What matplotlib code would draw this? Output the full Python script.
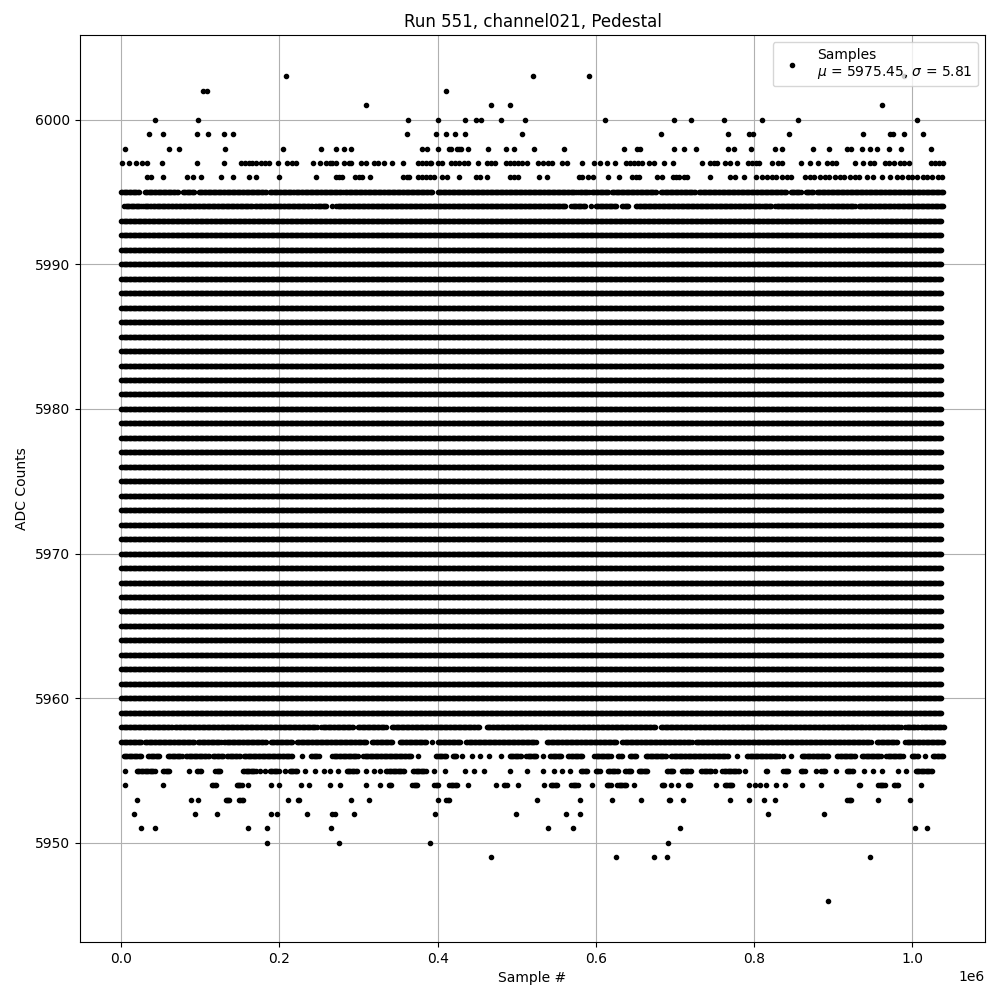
import matplotlib
matplotlib.use('Agg')
import matplotlib.pyplot as plt
import numpy as np

# ADC level -> covered sample ranges, in thousands of samples.
# A range (a, a) is a single isolated sample.
full_levels = list(range(5959, 5994))   # levels filled over the whole run
run_end = 1038

lvl_6003 = [208, 521, 591, 990]
lvl_6002 = [103, 108, 411]
lvl_6001 = [309, 467, 492, 961]
lvl_6000 = [43, 97, 363, 401, 434, 449, 455, 480, 511, 612, 699, 720, 762, 810, 855, 1006]
lvl_5999 = [35, 53, 96, 110, 130, 141, 361, 398, 411, 422, 434, 507, 682, 767, 793, 799,
            844, 938, 972, 976, 990, 1014]
lvl_5998 = [5, 61, 73, 131, 204, 252, 272, 282, 291, 380, 386, 400, 414, 417, 424, 427, 430,
            438, 464, 486, 496, 522, 560, 636, 652, 656, 699, 711, 726, 767, 774, 796, 827,
            835, 875, 895, 918, 923, 936, 947, 955, 971, 986, 1024]
lvl_5997 = [1, 10, 19, 26, 33, 52, 96, 130, 151, 156, 161, 166, 171, 177, 182, 187, 198, 209,
            216, 221, 243, 251, 259, 264, 267, 272, 282, 288, 291, 303, 309, 319, 325, 332,
            342, 356, 375, 380, 385, 390, 392, 401, 406, 417, 422, 427, 433, 438, 451, 463,
            468, 473, 487, 492, 497, 502, 507, 513, 527, 533, 540, 545, 557, 564, 583, 598,
            605, 614, 624, 638, 643, 648, 653, 658, 667, 673, 686, 697, 734, 744, 749, 753,
            763, 769, 778, 792, 797, 802, 806, 823, 830, 835, 859, 870, 881, 892, 899, 904,
            928, 937, 947, 951, 965, 971, 977, 984, 990, 996, 1023, 1029, 1034, 1039]
lvl_5996 = [33, 38, 53, 83, 91, 101, 126, 142, 161, 171, 200, 246, 271, 275, 279, 295, 300,
            305, 314, 356, 361, 364, 375, 380, 385, 390, 396, 405, 412, 427, 448, 454, 462,
            492, 497, 502, 528, 538, 579, 583, 590, 596, 615, 629, 646, 651, 654, 677, 683,
            697, 701, 705, 712, 715, 744, 770, 776, 787, 803, 810, 816, 822, 828, 835, 841,
            847, 864, 870, 876, 883, 889, 895, 902, 908, 914, 921, 927, 933, 943, 950, 961,
            972, 981, 987, 994, 1000, 1006, 1013, 1019, 1025, 1032, 1037]
lvl_5995 = [(0, 23), (30, 72), (78, 93), (98, 184), (188, 217), (219, 279), (281, 393),
            (400, 575), (578, 591), (595, 617), (620, 676), (682, 726), (730, 841),
            (846, 860), (865, 875), (879, 1040)]
lvl_5994 = [(4, 26), (28, 39), (40, 66), (68, 166), (169, 242), (245, 260), (266, 266),
            (272, 562), (569, 588), (594, 594), (600, 627), (633, 642), (651, 810),
            (812, 822), (827, 878), (879, 928), (932, 1040)]
lvl_5958 = [(0, 64), (68, 248), (253, 293), (299, 335), (342, 453), (462, 676), (682, 941),
            (942, 986), (991, 1008), (1011, 1040)]
lvl_5957 = [(0, 26), (30, 93), (97, 127), (130, 184), (189, 217), (222, 310), (317, 343),
            (352, 386), (393, 393), (400, 430), (436, 525), (538, 627), (633, 721),
            (726, 758), (760, 948), (955, 982), (991, 1040)]
lvl_5956 = [(3, 26), (34, 49), (59, 77), (82, 112), (116, 129), (134, 150), (155, 217),
            (228, 228), (240, 251), (267, 299), (306, 367), (375, 375), (398, 411),
            (419, 425), (431, 431), (443, 443), (454, 454), (465, 465), (480, 480),
            (491, 506), (512, 525), (533, 533), (542, 557), (565, 584), (598, 620),
            (628, 634), (643, 652), (663, 689), (695, 768), (778, 778), (791, 831),
            (837, 837), (847, 847), (860, 894), (905, 928), (936, 961), (967, 989),
            (999, 1008), (1016, 1016), (1026, 1040)]
lvl_5955 = [(5, 5), (20, 43), (53, 62), (86, 86), (96, 102), (119, 126), (154, 171),
            (175, 175), (182, 182), (188, 200), (207, 207), (213, 224), (233, 233),
            (245, 245), (256, 256), (264, 264), (274, 274), (285, 299), (309, 309),
            (319, 319), (327, 327), (335, 358), (369, 385), (395, 395), (409, 409),
            (434, 434), (446, 446), (459, 459), (491, 491), (513, 513), (533, 533),
            (547, 547), (557, 557), (567, 567), (581, 590), (600, 605), (615, 629),
            (637, 646), (654, 666), (690, 699), (709, 721), (733, 747), (750, 750),
            (760, 781), (788, 788), (815, 818), (837, 844), (859, 865), (878, 878),
            (885, 890), (904, 904), (917, 926), (939, 939), (950, 950), (962, 962),
            (982, 982), (992, 992), (1004, 1026)]
lvl_5954 = [(5, 5), (53, 53), (115, 121), (146, 153), (160, 160), (189, 189), (199, 199),
            (227, 227), (238, 238), (264, 264), (277, 277), (309, 309), (327, 327),
            (338, 342), (368, 375), (396, 401), (415, 425), (438, 438), (474, 474),
            (484, 488), (502, 502), (535, 535), (543, 551), (569, 578), (595, 595),
            (614, 620), (627, 639), (648, 648), (683, 687), (695, 695), (704, 704),
            (716, 720), (752, 752), (763, 774), (793, 793), (801, 801), (807, 807),
            (815, 815), (828, 828), (839, 839), (860, 860), (884, 884), (932, 934),
            (957, 965), (977, 982), (1011, 1011)]
lvl_5953 = [(20, 20), (88, 88), (97, 97), (132, 137), (149, 154), (211, 211), (223, 226),
            (290, 290), (313, 313), (400, 400), (411, 415), (526, 526), (580, 580),
            (620, 620), (657, 657), (692, 694), (710, 710), (770, 770), (793, 793),
            (812, 812), (827, 827), (918, 923), (957, 957), (997, 997)]
lvl_5952 = [16, 93, 121, 190, 197, 235, 267, 270, 294, 397, 499, 562, 580, 818, 888]
lvl_5951 = [25, 43, 160, 184, 265, 540, 571, 706, 1003, 1018]
lvl_5950 = [184, 275, 390, 691]
lvl_5949 = [467, 625, 673, 690, 946]
lvl_5946 = [893]

point_levels = {6003: lvl_6003, 6002: lvl_6002, 6001: lvl_6001, 6000: lvl_6000,
                5999: lvl_5999, 5998: lvl_5998, 5997: lvl_5997, 5996: lvl_5996,
                5952: lvl_5952, 5951: lvl_5951, 5950: lvl_5950, 5949: lvl_5949,
                5946: lvl_5946}
range_levels = {5995: lvl_5995, 5994: lvl_5994, 5958: lvl_5958, 5957: lvl_5957,
                5956: lvl_5956, 5955: lvl_5955, 5954: lvl_5954, 5953: lvl_5953}
for lv in full_levels:
    range_levels[lv] = [(0, run_end)]

step = 1.6  # thousand samples between drawn samples in a filled range
xs, ys = [], []
for lv, pts in point_levels.items():
    xs.extend(pts)
    ys.extend([lv] * len(pts))
for lv, rngs in range_levels.items():
    for a, b in rngs:
        seg = np.arange(a, b + 1e-9, step) if b > a else np.array([a])
        xs.extend(seg)
        ys.extend([lv] * len(seg))
xs = np.array(xs) * 1000
ys = np.array(ys)

mu, sigma = 5975.45, 5.81

fig, ax = plt.subplots(figsize=(10, 10), dpi=100)
ax.plot(xs, ys, 'k.', label=f'Samples\n$\\mu$ = {mu:.2f}, $\\sigma$ = {sigma:.2f}')
ax.set_title('Run 551, channel021, Pedestal')
ax.set_xlabel('Sample #')
ax.set_ylabel('ADC Counts')
ax.grid(True)
ax.legend(loc='upper right')
fig.subplots_adjust(left=0.08, right=0.985, top=0.965, bottom=0.058)
plt.savefig('out.png', dpi=100)
